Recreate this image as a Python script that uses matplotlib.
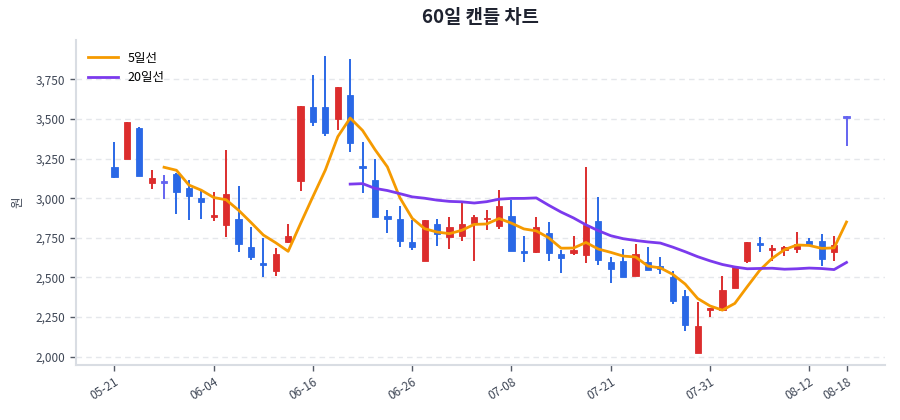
import numpy as np
import pandas as pd
import matplotlib
matplotlib.use("Agg")
import matplotlib.pyplot as plt

plt.rcParams['font.family'] = ['Noto Sans CJK KR', 'DejaVu Sans']

# daily OHLC (60 trading days)
opens = [3198, 3249, 3443, 3097, 3101, 3152, 3067, 2998, 2882, 2833,
         2870, 2692, 2591, 2538, 2721, 3110, 3578, 3578, 3500, 3649,
         3200, 3113, 2889, 2870, 2726, 2601, 2838, 2758, 2764, 2842,
         2868, 2825, 2890, 2665, 2663, 2780, 2648, 2657, 2642, 2854,
         2597, 2604, 2508, 2596, 2573, 2504, 2381, 2026, 2293, 2297,
         2436, 2605, 2718, 2673, 2673, 2681, 2732, 2732, 2662, 3510]
highs = [3357, 3480, 3448, 3175, 3146, 3160, 3112, 3046, 3040, 3306,
         3074, 2818, 2748, 2687, 2839, 3582, 3775, 3897, 3700, 3876,
         3357, 3250, 2927, 2952, 2863, 2863, 2868, 2884, 2973, 2895,
         2927, 3049, 2987, 2763, 2881, 2852, 2674, 2763, 3199, 3008,
         2627, 2678, 2710, 2693, 2630, 2539, 2419, 2346, 2310, 2508,
         2570, 2725, 2752, 2704, 2700, 2789, 2751, 2772, 2761, 3515]
lows = [3125, 3245, 3139, 3055, 2996, 2897, 2861, 2867, 2856, 2755,
        2658, 2608, 2503, 2507, 2717, 3042, 3452, 3389, 3427, 3288,
        3032, 2880, 2779, 2694, 2673, 2601, 2698, 2682, 2732, 2606,
        2800, 2804, 2669, 2600, 2652, 2604, 2530, 2640, 2589, 2578,
        2466, 2504, 2508, 2546, 2520, 2335, 2162, 2026, 2251, 2297,
        2436, 2594, 2662, 2603, 2635, 2652, 2698, 2572, 2605, 3332]
closes = [3131, 3479, 3139, 3124, 3101, 3036, 3015, 2975, 2894, 3029,
          2708, 2629, 2578, 2650, 2759, 3582, 3483, 3414, 3700, 3347,
          3190, 2880, 2868, 2732, 2694, 2863, 2775, 2817, 2838, 2880,
          2876, 2948, 2669, 2657, 2818, 2657, 2621, 2674, 2833, 2610,
          2553, 2504, 2645, 2546, 2552, 2350, 2198, 2192, 2310, 2419,
          2563, 2725, 2706, 2687, 2694, 2711, 2711, 2614, 2702, 3510]

tick_idx = [0, 8, 16, 24, 32, 40, 48, 56, 59]
tick_labels = ['05-21', '06-04', '06-16', '06-26', '07-08', '07-21', '07-31', '08-12', '08-18']

df = pd.DataFrame({'open': opens, 'high': highs, 'low': lows, 'close': closes})
df['ma5'] = df['close'].rolling(5).mean()
df['ma20'] = df['close'].rolling(20).mean()

UP = '#dc2d2d'
DOWN = '#2a68e6'
FLAT = '#6464f0'

fig = plt.figure(figsize=(9, 4.2), dpi=100)
ax = fig.add_axes([0.0844, 0.131, 0.8989, 0.774])

x = np.arange(len(df))
for i, row in df.iterrows():
    if row['close'] > row['open']:
        c = UP
    elif row['close'] < row['open']:
        c = DOWN
    else:
        c = FLAT
    ax.vlines(i, row['low'], row['high'], color=c, linewidth=1.4, zorder=2)
    lo = min(row['open'], row['close'])
    h = abs(row['close'] - row['open'])
    if h < 12:
        lo = (row['open'] + row['close']) / 2 - 6
        h = 12
    ax.bar(i, h, bottom=lo, width=0.5, color=c, edgecolor=c, linewidth=0.6, zorder=3)

ax.plot(x, df['ma5'], color='#f59a00', linewidth=2, label='5일선', zorder=4)
ax.plot(x, df['ma20'], color='#7b3aed', linewidth=2, label='20일선', zorder=4)

ax.set_xlim(-3.1, 62.1)
ax.set_ylim(1948, 3998)
ax.set_yticks([2000, 2250, 2500, 2750, 3000, 3250, 3500, 3750])
ax.yaxis.set_major_formatter(matplotlib.ticker.FuncFormatter(lambda v, p: f'{int(v):,}'))
ax.set_xticks(tick_idx)
ax.set_xticklabels(tick_labels, rotation=32, ha='right', rotation_mode='anchor')

ax.grid(axis='y', linestyle=(0, (4, 3)), color='#e5e7eb', linewidth=1)
ax.set_axisbelow(True)
for s in ['top', 'right']:
    ax.spines[s].set_visible(False)
for s in ['left', 'bottom']:
    ax.spines[s].set_color('#d9dde3')
    ax.spines[s].set_linewidth(1.5)
ax.tick_params(axis='both', colors='#555b66', labelcolor='#3f4756', labelsize=8.5, length=4, width=1)

ax.set_ylabel('원', fontsize=9, color='#3f4756', labelpad=8)
ax.set_title('60일 캔들 차트', fontsize=13.5, fontweight='bold', color='#1f2330', pad=12)

ax.legend(loc='upper left', frameon=False, fontsize=9, handlelength=2.4,
          borderaxespad=0.55, labelspacing=0.5)

fig.savefig('out.png', dpi=100)
